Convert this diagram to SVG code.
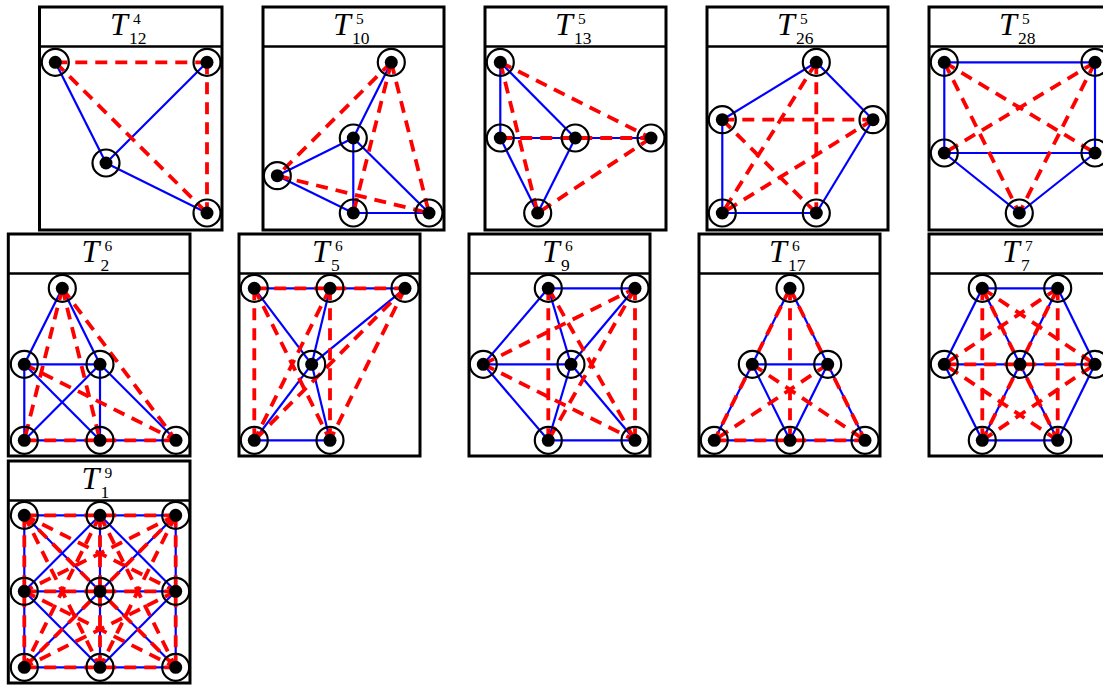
<svg xmlns="http://www.w3.org/2000/svg" width="1103" height="687" viewBox="0 0 1103 687">
<style>
.box{fill:#fff;stroke:#000;stroke-width:3}
.hdr{stroke:#000;stroke-width:2.5}
.b line{stroke:#0000ff;stroke-width:2.2}
.r line{stroke:#ff0000;stroke-width:3.8;stroke-dasharray:12 8}
.ring{fill:none;stroke:#000;stroke-width:2.2}
.tt{font-family:"Liberation Serif",serif;fill:#000}
.T{font-style:italic;font-size:32px}
.sp{font-size:15.5px}
.sb{font-size:17.5px}
</style>
<defs>
<g id="nd"><circle r="13.5" class="ring"/><circle r="6.5" fill="#000"/></g>
</defs>
<rect width="1103" height="687" fill="#fff"/>

<!-- Panel 1 T^4_12 -->
<g id="panel-T4-12">
<rect class="box" x="39.5" y="7" width="182.5" height="223"/>
<line class="hdr" x1="39.5" y1="46.5" x2="222" y2="46.5"/>
<text class="tt"><tspan class="T" x="110" y="35">T</tspan><tspan class="sp" x="133" y="24">4</tspan><tspan class="sb" x="129" y="43.5">12</tspan></text>
<g id="p1-edges">
<g class="b"><line x1="55.3" y1="62.3" x2="106" y2="163"/><line x1="106" y1="163" x2="207" y2="62.3"/><line x1="106" y1="163" x2="207" y2="213"/></g>
<g class="r"><line x1="55.3" y1="62.3" x2="207" y2="62.3"/><line x1="55.3" y1="62.3" x2="207" y2="213"/><line x1="207" y1="62.3" x2="207" y2="213"/></g>
</g>
<g id="p1-a"><use href="#nd" x="55.3" y="62.3"/></g>
<g id="p1-b"><use href="#nd" x="207" y="62.3"/></g>
<g id="p1-c"><use href="#nd" x="106" y="163"/></g>
<g id="p1-d"><use href="#nd" x="207" y="213"/></g>
</g>

<!-- Panel 2 T^5_10 -->
<g id="panel-T5-10">
<rect class="box" x="263" y="7" width="181" height="223"/>
<line class="hdr" x1="263" y1="46.5" x2="444" y2="46.5"/>
<text class="tt"><tspan class="T" x="333" y="35">T</tspan><tspan class="sp" x="356" y="24">5</tspan><tspan class="sb" x="352" y="43.5">10</tspan></text>
<g id="p2-edges">
<g class="b"><line x1="391.3" y1="62.3" x2="353.3" y2="138"/><line x1="353.3" y1="138" x2="277.3" y2="175.7"/><line x1="353.3" y1="138" x2="353.3" y2="213"/><line x1="353.3" y1="138" x2="429" y2="213"/><line x1="277.3" y1="175.7" x2="353.3" y2="213"/><line x1="353.3" y1="213" x2="429" y2="213"/></g>
<g class="r"><line x1="391.3" y1="62.3" x2="277.3" y2="175.7"/><line x1="391.3" y1="62.3" x2="353.3" y2="213"/><line x1="391.3" y1="62.3" x2="429" y2="213"/><line x1="277.3" y1="175.7" x2="429" y2="213"/></g>
</g>
<g id="p2-a"><use href="#nd" x="391.3" y="62.3"/></g>
<g id="p2-b"><use href="#nd" x="353.3" y="138"/></g>
<g id="p2-c"><use href="#nd" x="277.3" y="175.7"/></g>
<g id="p2-d"><use href="#nd" x="353.3" y="213"/></g>
<g id="p2-e"><use href="#nd" x="429" y="213"/></g>
</g>

<!-- Panel 3 T^5_13 -->
<g id="panel-T5-13">
<rect class="box" x="485" y="7" width="181" height="223"/>
<line class="hdr" x1="485" y1="46.5" x2="666" y2="46.5"/>
<text class="tt"><tspan class="T" x="555" y="35">T</tspan><tspan class="sp" x="578" y="24">5</tspan><tspan class="sb" x="574" y="43.5">13</tspan></text>
<g id="p3-edges">
<g class="b"><line x1="500.3" y1="62.3" x2="500.3" y2="138"/><line x1="500.3" y1="62.3" x2="575.3" y2="138"/><line x1="500.3" y1="138" x2="575.3" y2="138"/><line x1="575.3" y1="138" x2="651" y2="138"/><line x1="500.3" y1="138" x2="537.7" y2="213"/><line x1="575.3" y1="138" x2="537.7" y2="213"/></g>
<g class="r"><line x1="500.3" y1="62.3" x2="651" y2="138"/><line x1="500.3" y1="62.3" x2="537.7" y2="213"/><line x1="500.3" y1="138" x2="651" y2="138"/><line x1="651" y1="138" x2="537.7" y2="213"/></g>
</g>
<g id="p3-a"><use href="#nd" x="500.3" y="62.3"/></g>
<g id="p3-b"><use href="#nd" x="500.3" y="138"/></g>
<g id="p3-c"><use href="#nd" x="575.3" y="138"/></g>
<g id="p3-d"><use href="#nd" x="651" y="138"/></g>
<g id="p3-e"><use href="#nd" x="537.7" y="213"/></g>
</g>

<!-- Panel 4 T^5_26 -->
<g id="panel-T5-26">
<rect class="box" x="707" y="7" width="181" height="223"/>
<line class="hdr" x1="707" y1="46.5" x2="888" y2="46.5"/>
<text class="tt"><tspan class="T" x="777" y="35">T</tspan><tspan class="sp" x="800" y="24">5</tspan><tspan class="sb" x="796" y="43.5">26</tspan></text>
<g id="p4-edges">
<g class="b"><line x1="816.3" y1="62.3" x2="722.3" y2="119.7"/><line x1="816.3" y1="62.3" x2="873" y2="119.7"/><line x1="722.3" y1="119.7" x2="722.3" y2="213"/><line x1="722.3" y1="213" x2="816.3" y2="213"/><line x1="816.3" y1="213" x2="873" y2="119.7"/></g>
<g class="r"><line x1="816.3" y1="62.3" x2="722.3" y2="213"/><line x1="816.3" y1="62.3" x2="816.3" y2="213"/><line x1="722.3" y1="119.7" x2="873" y2="119.7"/><line x1="722.3" y1="119.7" x2="816.3" y2="213"/><line x1="873" y1="119.7" x2="722.3" y2="213"/></g>
</g>
<g id="p4-a"><use href="#nd" x="816.3" y="62.3"/></g>
<g id="p4-b"><use href="#nd" x="722.3" y="119.7"/></g>
<g id="p4-c"><use href="#nd" x="873" y="119.7"/></g>
<g id="p4-d"><use href="#nd" x="722.3" y="213"/></g>
<g id="p4-e"><use href="#nd" x="816.3" y="213"/></g>
</g>

<!-- Panel 5 T^5_28 -->
<g id="panel-T5-28">
<rect class="box" x="929" y="7" width="181" height="223"/>
<line class="hdr" x1="929" y1="46.5" x2="1110" y2="46.5"/>
<text class="tt"><tspan class="T" x="999" y="35">T</tspan><tspan class="sp" x="1022" y="24">5</tspan><tspan class="sb" x="1018" y="43.5">28</tspan></text>
<g id="p5-edges">
<g class="b"><line x1="944.3" y1="62.3" x2="1095" y2="62.3"/><line x1="944.3" y1="62.3" x2="944.3" y2="153"/><line x1="1095" y1="62.3" x2="1095" y2="153"/><line x1="944.3" y1="153" x2="1095" y2="153"/><line x1="944.3" y1="153" x2="1019.3" y2="213"/><line x1="1095" y1="153" x2="1019.3" y2="213"/></g>
<g class="r"><line x1="944.3" y1="62.3" x2="1095" y2="153"/><line x1="1095" y1="62.3" x2="944.3" y2="153"/><line x1="944.3" y1="62.3" x2="1019.3" y2="213"/><line x1="1095" y1="62.3" x2="1019.3" y2="213"/></g>
</g>
<g id="p5-a"><use href="#nd" x="944.3" y="62.3"/></g>
<g id="p5-b"><use href="#nd" x="1095" y="62.3"/></g>
<g id="p5-c"><use href="#nd" x="944.3" y="153"/></g>
<g id="p5-d"><use href="#nd" x="1095" y="153"/></g>
<g id="p5-e"><use href="#nd" x="1019.3" y="213"/></g>
</g>

<!-- Panel 6 T^6_2 -->
<g id="panel-T6-2">
<rect class="box" x="8.3" y="234" width="181.7" height="222"/>
<line class="hdr" x1="8.3" y1="273.5" x2="190" y2="273.5"/>
<text class="tt"><tspan class="T" x="81.6" y="262">T</tspan><tspan class="sp" x="104.6" y="251">6</tspan><tspan class="sb" x="100.6" y="270.5">2</tspan></text>
<g id="p6-edges">
<g class="b"><line x1="62.3" y1="288.3" x2="24.3" y2="364.3"/><line x1="62.3" y1="288.3" x2="100" y2="364.3"/><line x1="24.3" y1="364.3" x2="100" y2="364.3"/><line x1="24.3" y1="364.3" x2="24.3" y2="440.3"/><line x1="100" y1="364.3" x2="100" y2="440.3"/><line x1="24.3" y1="364.3" x2="100" y2="440.3"/><line x1="100" y1="364.3" x2="24.3" y2="440.3"/><line x1="100" y1="364.3" x2="176" y2="440.3"/><line x1="24.3" y1="440.3" x2="100" y2="440.3"/><line x1="100" y1="440.3" x2="176" y2="440.3"/></g>
<g class="r"><line x1="62.3" y1="288.3" x2="24.3" y2="440.3"/><line x1="62.3" y1="288.3" x2="100" y2="440.3"/><line x1="62.3" y1="288.3" x2="176" y2="440.3"/><line x1="24.3" y1="364.3" x2="176" y2="440.3"/><line x1="24.3" y1="440.3" x2="176" y2="440.3"/></g>
</g>
<g id="p6-a"><use href="#nd" x="62.3" y="288.3"/></g>
<g id="p6-b"><use href="#nd" x="24.3" y="364.3"/></g>
<g id="p6-c"><use href="#nd" x="100" y="364.3"/></g>
<g id="p6-d"><use href="#nd" x="24.3" y="440.3"/></g>
<g id="p6-e"><use href="#nd" x="100" y="440.3"/></g>
<g id="p6-f"><use href="#nd" x="176" y="440.3"/></g>
</g>

<!-- Panel 7 T^6_5 -->
<g id="panel-T6-5">
<rect class="box" x="239" y="234" width="181" height="222"/>
<line class="hdr" x1="239" y1="273.5" x2="420" y2="273.5"/>
<text class="tt"><tspan class="T" x="312" y="262">T</tspan><tspan class="sp" x="335" y="251">6</tspan><tspan class="sb" x="331" y="270.5">5</tspan></text>
<g id="p7-edges">
<g class="b"><line x1="254.3" y1="288.3" x2="405" y2="288.3"/><line x1="254.3" y1="288.3" x2="311.7" y2="364.3"/><line x1="330" y1="288.3" x2="311.7" y2="364.3"/><line x1="405" y1="288.3" x2="311.7" y2="364.3"/><line x1="311.7" y1="364.3" x2="254.3" y2="440.3"/><line x1="311.7" y1="364.3" x2="330" y2="440.3"/><line x1="254.3" y1="440.3" x2="330" y2="440.3"/></g>
<g class="r"><line x1="254.3" y1="288.3" x2="405" y2="288.3"/><line x1="254.3" y1="288.3" x2="254.3" y2="440.3"/><line x1="254.3" y1="288.3" x2="330" y2="440.3"/><line x1="330" y1="288.3" x2="254.3" y2="440.3"/><line x1="330" y1="288.3" x2="330" y2="440.3"/><line x1="405" y1="288.3" x2="254.3" y2="440.3"/><line x1="405" y1="288.3" x2="330" y2="440.3"/></g>
</g>
<g id="p7-a"><use href="#nd" x="254.3" y="288.3"/></g>
<g id="p7-b"><use href="#nd" x="330" y="288.3"/></g>
<g id="p7-c"><use href="#nd" x="405" y="288.3"/></g>
<g id="p7-d"><use href="#nd" x="311.7" y="364.3"/></g>
<g id="p7-e"><use href="#nd" x="254.3" y="440.3"/></g>
<g id="p7-f"><use href="#nd" x="330" y="440.3"/></g>
</g>

<!-- Panel 8 T^6_9 -->
<g id="panel-T6-9">
<rect class="box" x="469" y="234" width="181" height="222"/>
<line class="hdr" x1="469" y1="273.5" x2="650" y2="273.5"/>
<text class="tt"><tspan class="T" x="542" y="262">T</tspan><tspan class="sp" x="565" y="251">6</tspan><tspan class="sb" x="561" y="270.5">9</tspan></text>
<g id="p8-edges">
<g class="b"><line x1="548.3" y1="288.3" x2="635" y2="288.3"/><line x1="483.3" y1="364.3" x2="548.3" y2="288.3"/><line x1="483.3" y1="364.3" x2="571" y2="364.3"/><line x1="483.3" y1="364.3" x2="548.3" y2="440.3"/><line x1="548.3" y1="288.3" x2="571" y2="364.3"/><line x1="635" y1="288.3" x2="571" y2="364.3"/><line x1="571" y1="364.3" x2="548.3" y2="440.3"/><line x1="571" y1="364.3" x2="635" y2="440.3"/><line x1="548.3" y1="440.3" x2="635" y2="440.3"/></g>
<g class="r"><line x1="548.3" y1="288.3" x2="548.3" y2="440.3"/><line x1="635" y1="288.3" x2="635" y2="440.3"/><line x1="483.3" y1="364.3" x2="635" y2="288.3"/><line x1="483.3" y1="364.3" x2="635" y2="440.3"/><line x1="548.3" y1="288.3" x2="635" y2="440.3"/><line x1="635" y1="288.3" x2="548.3" y2="440.3"/></g>
</g>
<g id="p8-a"><use href="#nd" x="548.3" y="288.3"/></g>
<g id="p8-b"><use href="#nd" x="635" y="288.3"/></g>
<g id="p8-c"><use href="#nd" x="483.3" y="364.3"/></g>
<g id="p8-d"><use href="#nd" x="571" y="364.3"/></g>
<g id="p8-e"><use href="#nd" x="548.3" y="440.3"/></g>
<g id="p8-f"><use href="#nd" x="635" y="440.3"/></g>
</g>

<!-- Panel 9 T^6_17 -->
<g id="panel-T6-17">
<rect class="box" x="699" y="234" width="181" height="222"/>
<line class="hdr" x1="699" y1="273.5" x2="880" y2="273.5"/>
<text class="tt"><tspan class="T" x="769" y="262">T</tspan><tspan class="sp" x="792" y="251">6</tspan><tspan class="sb" x="788" y="270.5">17</tspan></text>
<g id="p9-edges">
<g class="b"><line x1="790" y1="288.3" x2="752.3" y2="364.3"/><line x1="790" y1="288.3" x2="827.7" y2="364.3"/><line x1="752.3" y1="364.3" x2="827.7" y2="364.3"/><line x1="752.3" y1="364.3" x2="714.3" y2="440.3"/><line x1="827.7" y1="364.3" x2="865" y2="440.3"/><line x1="752.3" y1="364.3" x2="790" y2="440.3"/><line x1="827.7" y1="364.3" x2="790" y2="440.3"/><line x1="714.3" y1="440.3" x2="865" y2="440.3"/></g>
<g class="r"><line x1="790" y1="288.3" x2="790" y2="440.3"/><line x1="790" y1="288.3" x2="714.3" y2="440.3"/><line x1="790" y1="288.3" x2="865" y2="440.3"/><line x1="714.3" y1="440.3" x2="865" y2="440.3"/><line x1="752.3" y1="364.3" x2="865" y2="440.3"/><line x1="827.7" y1="364.3" x2="714.3" y2="440.3"/></g>
</g>
<g id="p9-a"><use href="#nd" x="790" y="288.3"/></g>
<g id="p9-b"><use href="#nd" x="752.3" y="364.3"/></g>
<g id="p9-c"><use href="#nd" x="827.7" y="364.3"/></g>
<g id="p9-d"><use href="#nd" x="714.3" y="440.3"/></g>
<g id="p9-e"><use href="#nd" x="790" y="440.3"/></g>
<g id="p9-f"><use href="#nd" x="865" y="440.3"/></g>
</g>

<!-- Panel 10 T^7_7 -->
<g id="panel-T7-7">
<rect class="box" x="929" y="234" width="181" height="222"/>
<line class="hdr" x1="929" y1="273.5" x2="1110" y2="273.5"/>
<text class="tt"><tspan class="T" x="1002" y="262">T</tspan><tspan class="sp" x="1025" y="251">7</tspan><tspan class="sb" x="1021" y="270.5">7</tspan></text>
<g id="p10-edges">
<g class="b"><line x1="982.3" y1="288.3" x2="1057.7" y2="288.3"/><line x1="1057.7" y1="288.3" x2="1095" y2="364.3"/><line x1="1095" y1="364.3" x2="1057.7" y2="440.3"/><line x1="1057.7" y1="440.3" x2="982.3" y2="440.3"/><line x1="982.3" y1="440.3" x2="944.3" y2="364.3"/><line x1="944.3" y1="364.3" x2="982.3" y2="288.3"/><line x1="1020" y1="364.3" x2="982.3" y2="288.3"/><line x1="1020" y1="364.3" x2="1057.7" y2="288.3"/><line x1="1020" y1="364.3" x2="944.3" y2="364.3"/><line x1="1020" y1="364.3" x2="1095" y2="364.3"/><line x1="1020" y1="364.3" x2="982.3" y2="440.3"/><line x1="1020" y1="364.3" x2="1057.7" y2="440.3"/></g>
<g class="r"><line x1="982.3" y1="288.3" x2="982.3" y2="440.3"/><line x1="1057.7" y1="288.3" x2="1057.7" y2="440.3"/><line x1="944.3" y1="364.3" x2="1095" y2="364.3"/><line x1="982.3" y1="288.3" x2="1057.7" y2="440.3"/><line x1="1057.7" y1="288.3" x2="982.3" y2="440.3"/><line x1="982.3" y1="288.3" x2="1095" y2="364.3"/><line x1="1057.7" y1="288.3" x2="944.3" y2="364.3"/><line x1="982.3" y1="440.3" x2="1095" y2="364.3"/><line x1="1057.7" y1="440.3" x2="944.3" y2="364.3"/></g>
</g>
<g id="p10-a"><use href="#nd" x="982.3" y="288.3"/></g>
<g id="p10-b"><use href="#nd" x="1057.7" y="288.3"/></g>
<g id="p10-c"><use href="#nd" x="944.3" y="364.3"/></g>
<g id="p10-d"><use href="#nd" x="1020" y="364.3"/></g>
<g id="p10-e"><use href="#nd" x="1095" y="364.3"/></g>
<g id="p10-f"><use href="#nd" x="982.3" y="440.3"/></g>
<g id="p10-g"><use href="#nd" x="1057.7" y="440.3"/></g>
</g>

<!-- Panel 11 T^9_1 -->
<g id="panel-T9-1">
<rect class="box" x="8.3" y="461" width="181.7" height="222"/>
<line class="hdr" x1="8.3" y1="500.5" x2="190" y2="500.5"/>
<text class="tt"><tspan class="T" x="81.6" y="489">T</tspan><tspan class="sp" x="104.6" y="478">9</tspan><tspan class="sb" x="100.6" y="497.5">1</tspan></text>
<g id="p11-edges">
<g class="b">
<line x1="24.3" y1="515.3" x2="175.7" y2="515.3"/><line x1="24.3" y1="591.3" x2="175.7" y2="591.3"/><line x1="24.3" y1="667.3" x2="175.7" y2="667.3"/>
<line x1="24.3" y1="515.3" x2="24.3" y2="667.3"/><line x1="100" y1="515.3" x2="100" y2="667.3"/><line x1="175.7" y1="515.3" x2="175.7" y2="667.3"/>
<line x1="24.3" y1="515.3" x2="175.7" y2="667.3"/><line x1="175.7" y1="515.3" x2="24.3" y2="667.3"/>
<line x1="100" y1="515.3" x2="24.3" y2="591.3"/><line x1="100" y1="515.3" x2="175.7" y2="591.3"/><line x1="24.3" y1="591.3" x2="100" y2="667.3"/><line x1="175.7" y1="591.3" x2="100" y2="667.3"/>
</g>
<g class="r">
<line x1="24.3" y1="515.3" x2="175.7" y2="515.3"/><line x1="24.3" y1="591.3" x2="175.7" y2="591.3"/><line x1="24.3" y1="667.3" x2="175.7" y2="667.3"/>
<line x1="24.3" y1="515.3" x2="24.3" y2="667.3"/><line x1="100" y1="515.3" x2="100" y2="667.3"/><line x1="175.7" y1="515.3" x2="175.7" y2="667.3"/>
<line x1="24.3" y1="515.3" x2="175.7" y2="667.3"/><line x1="175.7" y1="515.3" x2="24.3" y2="667.3"/>
<line x1="24.3" y1="515.3" x2="100" y2="667.3"/><line x1="24.3" y1="515.3" x2="175.7" y2="591.3"/>
<line x1="100" y1="515.3" x2="24.3" y2="667.3"/><line x1="100" y1="515.3" x2="175.7" y2="667.3"/>
<line x1="175.7" y1="515.3" x2="24.3" y2="591.3"/><line x1="175.7" y1="515.3" x2="100" y2="667.3"/>
<line x1="24.3" y1="591.3" x2="175.7" y2="667.3"/><line x1="175.7" y1="591.3" x2="24.3" y2="667.3"/>
</g>
</g>
<g id="p11-a"><use href="#nd" x="24.3" y="515.3"/></g>
<g id="p11-b"><use href="#nd" x="100" y="515.3"/></g>
<g id="p11-c"><use href="#nd" x="175.7" y="515.3"/></g>
<g id="p11-d"><use href="#nd" x="24.3" y="591.3"/></g>
<g id="p11-e"><use href="#nd" x="100" y="591.3"/></g>
<g id="p11-f"><use href="#nd" x="175.7" y="591.3"/></g>
<g id="p11-g"><use href="#nd" x="24.3" y="667.3"/></g>
<g id="p11-h"><use href="#nd" x="100" y="667.3"/></g>
<g id="p11-i"><use href="#nd" x="175.7" y="667.3"/></g>
</g>
</svg>
